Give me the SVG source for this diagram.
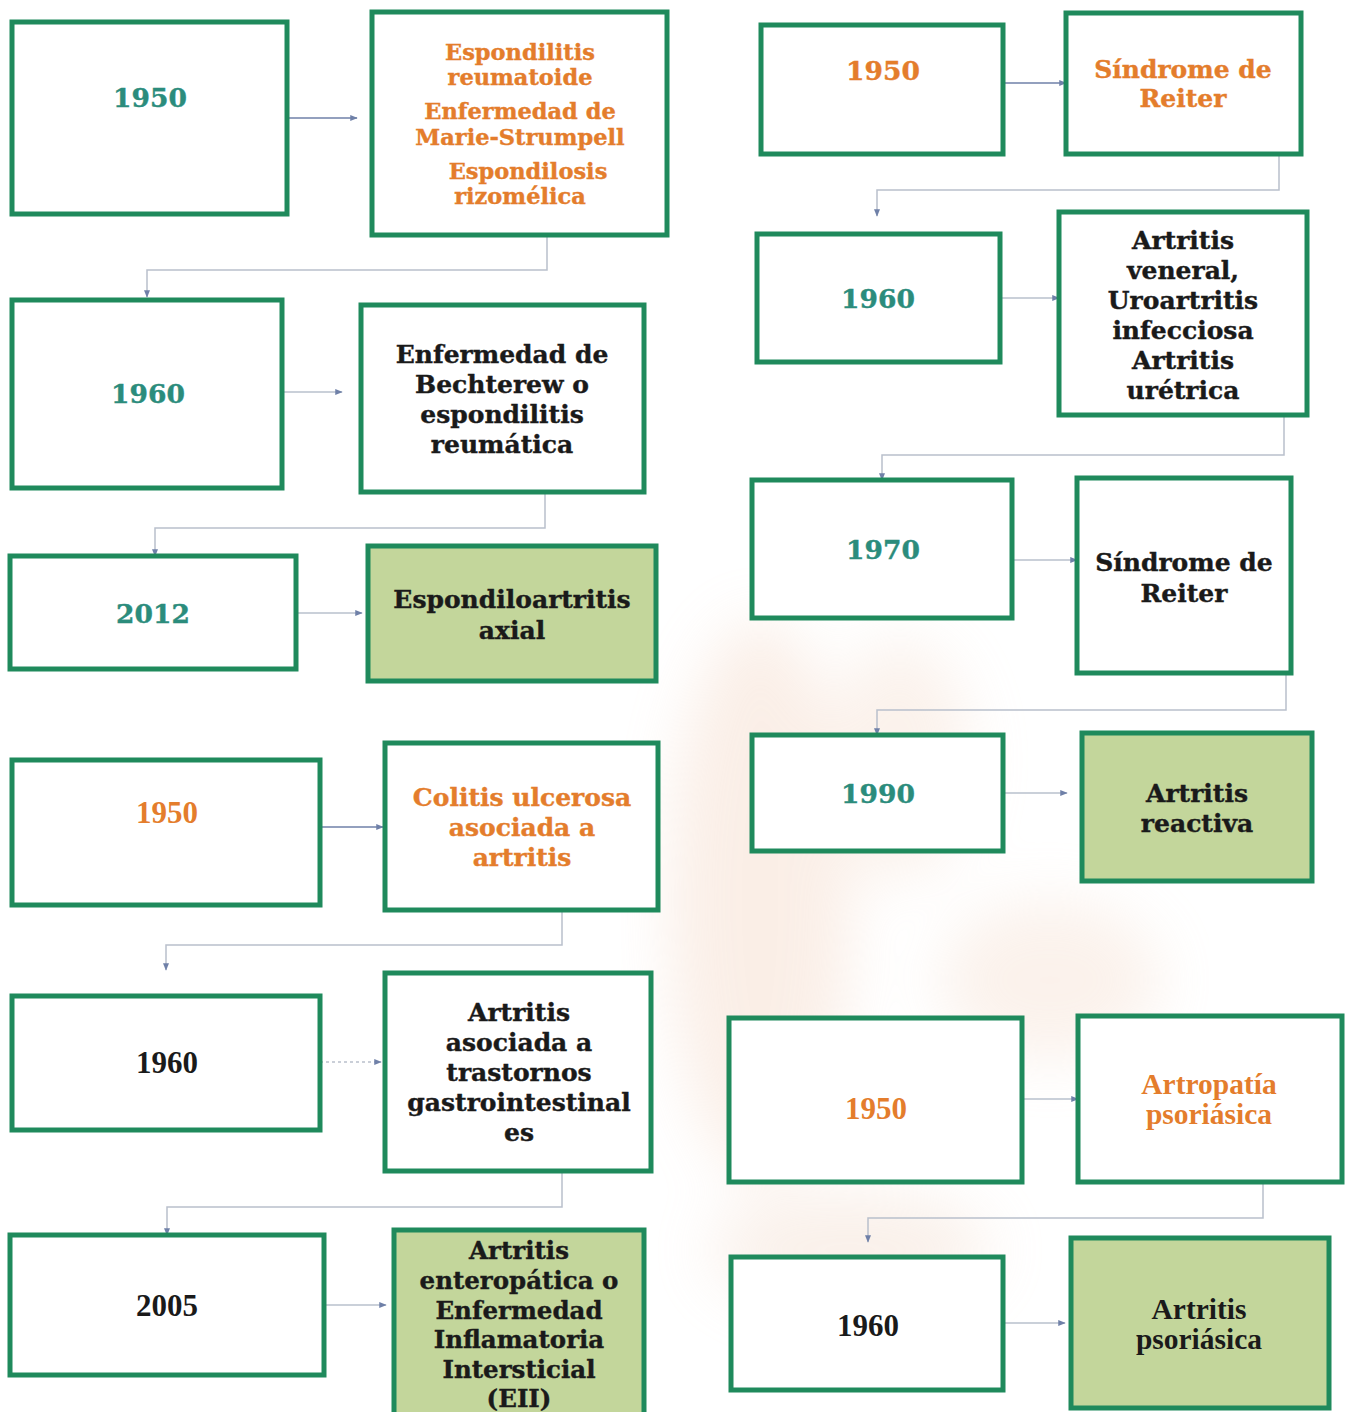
<svg xmlns="http://www.w3.org/2000/svg" width="1349" height="1412" viewBox="0 0 1349 1412">
<style>
.box{fill:#ffffff;stroke:#1f8a5c;stroke-width:5}
.fill{fill:#c3d69b;stroke:#1f8a5c;stroke-width:5}
.t{font-family:"DejaVu Serif",serif;font-weight:bold;text-anchor:middle;stroke-width:0.4}
.c{font-family:"Liberation Serif",serif;font-weight:bold;text-anchor:middle}
.teal{fill:#2b8c7c;stroke:#2b8c7c}
.org{fill:#e47d2c;stroke:#e47d2c}
.blk{fill:#1a1a1a;stroke:#1a1a1a}
.c.org,.c.blk{stroke:none}
.con{fill:none;stroke:#b9c0cc;stroke-width:1.5}
.dark{stroke:#6f80a8}
</style>
<defs>
<marker id="ah" viewBox="0 0 10 10" refX="9" refY="5" markerWidth="5" markerHeight="5" orient="auto"><path d="M0,1 L10,5 L0,9 z" fill="#6f80a8"/></marker>
<filter id="blur"><feGaussianBlur stdDeviation="30"/></filter>
</defs>
<rect width="1349" height="1412" fill="#ffffff"/>
<g id="watermark" filter="url(#blur)" opacity="0.3">
<ellipse cx="760" cy="900" rx="90" ry="280" fill="#f0c9b0"/>
<ellipse cx="900" cy="760" rx="70" ry="120" fill="#f2d4c0"/>
<ellipse cx="1050" cy="980" rx="110" ry="80" fill="#f2d4c0"/>
<ellipse cx="850" cy="1250" rx="140" ry="60" fill="#eed0bc"/>
</g>
<g id="connectors">
<path class="con dark" d="M287,118 H357" marker-end="url(#ah)"/>
<path class="con" d="M547,235 V270 H147 V297" marker-end="url(#ah)"/>
<path class="con" d="M282,392 H342" marker-end="url(#ah)"/>
<path class="con" d="M545,492 V528 H155 V556" marker-end="url(#ah)"/>
<path class="con" d="M296,613 H362" marker-end="url(#ah)"/>
<path class="con dark" d="M320,827 H383" marker-end="url(#ah)"/>
<path class="con" d="M562,910 V945 H166 V970" marker-end="url(#ah)"/>
<path class="con" d="M320,1062 H381" stroke-dasharray="3,3" marker-end="url(#ah)"/>
<path class="con" d="M562,1171 V1207 H167 V1235" marker-end="url(#ah)"/>
<path class="con" d="M324,1305 H386" marker-end="url(#ah)"/>
<path class="con dark" d="M1003,83 H1066" marker-end="url(#ah)"/>
<path class="con" d="M1279,154 V190 H877 V216" marker-end="url(#ah)"/>
<path class="con" d="M1000,298 H1059" marker-end="url(#ah)"/>
<path class="con" d="M1284,415 V455 H882 V480" marker-end="url(#ah)"/>
<path class="con" d="M1012,560 H1077" marker-end="url(#ah)"/>
<path class="con" d="M1286,673 V710 H877 V735" marker-end="url(#ah)"/>
<path class="con" d="M1003,793 H1067" marker-end="url(#ah)"/>
<path class="con" d="M1022,1099 H1078" marker-end="url(#ah)"/>
<path class="con" d="M1263,1182 V1218 H868 V1242" marker-end="url(#ah)"/>
<path class="con" d="M1003,1323 H1065" marker-end="url(#ah)"/>
</g>
<g id="a1"><rect class="box" x="12" y="22" width="275" height="192"/><text class="t teal" x="150" y="107" font-size="26.5">1950</text></g>
<g id="a2"><rect class="box" x="372" y="12" width="295" height="223"/>
<text class="t org" font-size="22.5"><tspan x="520" y="60">Espondilitis</tspan><tspan x="520" y="85">reumatoide</tspan><tspan x="520" y="119">Enfermedad de</tspan><tspan x="520" y="145">Marie-Strumpell</tspan><tspan x="528" y="179">Espondilosis</tspan><tspan x="520" y="204">rizomélica</tspan></text></g>
<g id="b1"><rect class="box" x="12" y="300" width="270" height="188"/><text class="t teal" x="148" y="403" font-size="26.5">1960</text></g>
<g id="b2"><rect class="box" x="361" y="305" width="283" height="187"/>
<text class="t blk" font-size="25"><tspan x="502" y="363">Enfermedad de</tspan><tspan x="502" y="393">Bechterew o</tspan><tspan x="502" y="423">espondilitis</tspan><tspan x="502" y="453">reumática</tspan></text></g>
<g id="c1"><rect class="box" x="10" y="556" width="286" height="113"/><text class="t teal" x="153" y="623" font-size="26.5">2012</text></g>
<g id="c2"><rect class="fill" x="368" y="546" width="288" height="135"/>
<text class="t blk" font-size="25"><tspan x="512" y="608">Espondiloartritis</tspan><tspan x="512" y="639">axial</tspan></text></g>
<g id="d1"><rect class="box" x="12" y="760" width="308" height="145"/><text class="c org" x="167" y="823" font-size="31">1950</text></g>
<g id="d2"><rect class="box" x="385" y="743" width="273" height="167"/>
<text class="t org" font-size="25"><tspan x="522" y="806">Colitis ulcerosa</tspan><tspan x="522" y="836">asociada a</tspan><tspan x="522" y="866">artritis</tspan></text></g>
<g id="e1"><rect class="box" x="12" y="996" width="308" height="134"/><text class="c blk" x="167" y="1073" font-size="31">1960</text></g>
<g id="e2"><rect class="box" x="385" y="973" width="266" height="198"/>
<text class="t blk" font-size="25"><tspan x="519" y="1021">Artritis</tspan><tspan x="519" y="1051">asociada a</tspan><tspan x="519" y="1081">trastornos</tspan><tspan x="519" y="1111">gastrointestinal</tspan><tspan x="519" y="1141">es</tspan></text></g>
<g id="f1"><rect class="box" x="10" y="1235" width="314" height="140"/><text class="c blk" x="167" y="1316" font-size="31">2005</text></g>
<g id="f2"><rect class="fill" x="394" y="1230" width="250" height="190"/>
<text class="t blk" font-size="24.5"><tspan x="519" y="1259">Artritis</tspan><tspan x="519" y="1289">enteropática o</tspan><tspan x="519" y="1319">Enfermedad</tspan><tspan x="519" y="1348">Inflamatoria</tspan><tspan x="519" y="1378">Intersticial</tspan><tspan x="519" y="1407">(EII)</tspan></text></g>
<g id="g1"><rect class="box" x="761" y="25" width="242" height="129"/><text class="t org" x="883" y="80" font-size="26.5">1950</text></g>
<g id="g2"><rect class="box" x="1066" y="13" width="235" height="141"/>
<text class="t org" font-size="25"><tspan x="1183" y="78">Síndrome de</tspan><tspan x="1183" y="107">Reiter</tspan></text></g>
<g id="h1"><rect class="box" x="757" y="234" width="243" height="128"/><text class="t teal" x="878" y="308" font-size="26.5">1960</text></g>
<g id="h2"><rect class="box" x="1059" y="212" width="248" height="203"/>
<text class="t blk" font-size="25"><tspan x="1183" y="249">Artritis</tspan><tspan x="1183" y="279">veneral,</tspan><tspan x="1183" y="309">Uroartritis</tspan><tspan x="1183" y="339">infecciosa</tspan><tspan x="1183" y="369">Artritis</tspan><tspan x="1183" y="399">urétrica</tspan></text></g>
<g id="i1"><rect class="box" x="752" y="480" width="260" height="138"/><text class="t teal" x="883" y="559" font-size="26.5">1970</text></g>
<g id="i2"><rect class="box" x="1077" y="478" width="214" height="195"/>
<text class="t blk" font-size="25"><tspan x="1184" y="571">Síndrome de</tspan><tspan x="1184" y="602">Reiter</tspan></text></g>
<g id="j1"><rect class="box" x="752" y="735" width="251" height="116"/><text class="t teal" x="878" y="803" font-size="26.5">1990</text></g>
<g id="j2"><rect class="fill" x="1082" y="733" width="230" height="148"/>
<text class="t blk" font-size="25"><tspan x="1197" y="802">Artritis</tspan><tspan x="1197" y="832">reactiva</tspan></text></g>
<g id="k1"><rect class="box" x="729" y="1018" width="293" height="164"/><text class="c org" x="876" y="1119" font-size="31">1950</text></g>
<g id="k2"><rect class="box" x="1078" y="1016" width="264" height="166"/>
<text class="c org" font-size="29.5"><tspan x="1209" y="1094">Artropatía</tspan><tspan x="1209" y="1124">psoriásica</tspan></text></g>
<g id="l1"><rect class="box" x="731" y="1257" width="272" height="133"/><text class="c blk" x="868" y="1336" font-size="31">1960</text></g>
<g id="l2"><rect class="fill" x="1071" y="1238" width="258" height="170"/>
<text class="c blk" font-size="29.5"><tspan x="1199" y="1319">Artritis</tspan><tspan x="1199" y="1349">psoriásica</tspan></text></g>
</svg>
